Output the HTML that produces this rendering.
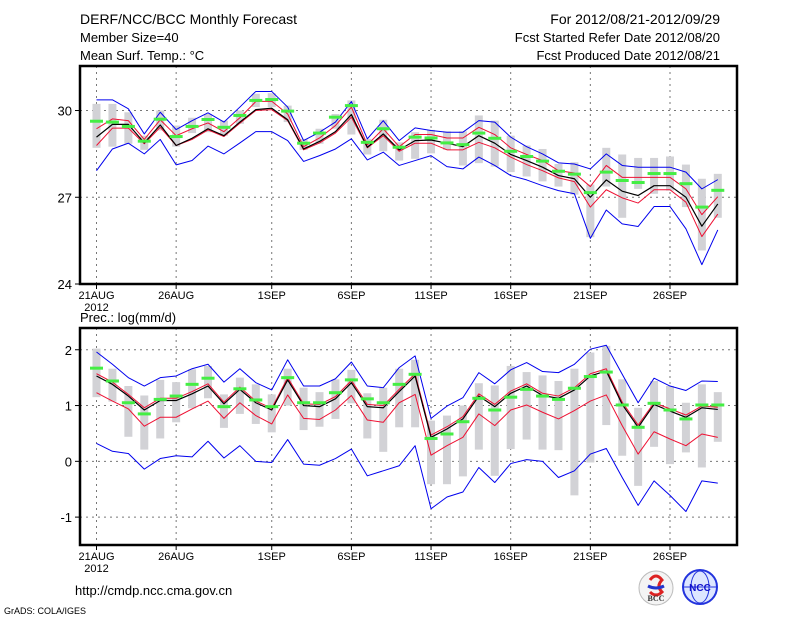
<!DOCTYPE html>
<html><head><meta charset="utf-8">
<style>
html,body{margin:0;padding:0;background:#fff;}
svg{display:block;font-family:"Liberation Sans",sans-serif;}
</style></head>
<body>
<svg id="c" width="800" height="618" viewBox="0 0 800 618">
<text x="80" y="24" font-size="14">DERF/NCC/BCC Monthly Forecast</text>
<text x="80" y="42" font-size="13">Member Size=40</text>
<text x="80" y="60" font-size="13">Mean Surf. Temp.: °C</text>
<text x="720" y="24" font-size="14" text-anchor="end">For 2012/08/21-2012/09/29</text>
<text x="720" y="42" font-size="13" text-anchor="end">Fcst Started Refer Date 2012/08/20</text>
<text x="720" y="60" font-size="13" text-anchor="end">Fcst Produced Date 2012/08/21</text>
<text x="80" y="322" font-size="13">Prec.: log(mm/d)</text>
<text x="75" y="595" font-size="13">http://cmdp.ncc.cma.gov.cn</text>
<text x="4" y="614" font-size="9">GrADS: COLA/IGES</text>
<g>
<circle cx="656" cy="588" r="17" fill="#f4f4f4" stroke="#bbb"/>
<path d="M650 580 q6 -8 12 0 q-6 6 0 12 q-6 6 -12 0" fill="none" stroke="#d22" stroke-width="3"/>
<path d="M648 586 q8 4 16 0" fill="none" stroke="#23c" stroke-width="3"/>
<text x="656" y="601" font-size="8" text-anchor="middle" font-family="Liberation Serif,serif" font-weight="bold" fill="#333">BCC</text>
</g>
<g>
<circle cx="700" cy="587" r="17" fill="#dde6ff" stroke="#23d" stroke-width="2"/>
<ellipse cx="700" cy="587" rx="9" ry="16" fill="none" stroke="#23d"/>
<line x1="684" y1="587" x2="716" y2="587" stroke="#23d"/>
<text x="700" y="591" font-size="10" text-anchor="middle" font-weight="bold" fill="#11c">NCC</text>
</g>
</svg>
<script>
// ---- temperature panel data (°C) ----
const dayTicks = ["21AUG","26AUG","1SEP","6SEP","11SEP","16SEP","21SEP","26SEP"];
const dayTickIdx = [0,5,11,16,21,26,31,36];
const tTicks = [24,27,30];
const pTicks = [-1,0,1,2];
const tBlack = [29.08,29.52,29.52,28.88,29.50,28.79,29.04,29.37,29.13,29.60,30.03,30.08,29.68,28.67,28.93,29.27,29.86,28.73,29.19,28.64,28.96,28.98,28.87,28.75,29.13,28.87,28.48,28.27,28.04,27.75,27.64,27.00,27.60,27.21,27.06,27.40,27.40,27.00,26.00,26.77];
const tRedHi = [29.37,29.71,29.65,29.00,29.68,29.13,29.37,29.57,29.27,29.75,30.31,30.32,29.88,28.75,29.05,29.48,30.12,28.81,29.37,28.75,29.17,29.17,29.05,29.05,29.42,29.17,28.71,28.48,28.27,27.92,27.84,27.37,28.10,27.69,27.69,27.69,27.69,27.29,26.40,27.02];
const tRedLo = [28.79,29.39,29.39,28.85,29.42,28.79,29.00,29.33,29.10,29.56,30.00,30.03,29.65,28.64,28.88,29.22,29.77,28.71,29.13,28.59,28.87,28.87,28.64,28.64,28.90,28.71,28.39,28.13,27.92,27.67,27.54,26.66,27.26,26.98,26.80,27.26,27.26,26.83,25.64,26.42];
const tBlueHi = [30.37,30.37,30.06,29.19,29.94,29.34,29.65,29.92,29.60,30.12,30.66,30.66,30.12,28.96,29.25,29.60,30.31,29.02,29.65,28.96,29.40,29.31,29.25,29.25,29.65,29.60,29.08,28.75,28.50,28.19,28.15,27.98,28.50,28.10,28.04,28.04,28.04,27.87,27.29,27.61];
const tBlueLo = [27.92,28.67,28.87,28.50,29.00,28.12,28.27,28.77,28.50,28.88,29.27,29.27,28.96,28.24,28.44,28.67,29.02,28.29,28.56,28.10,28.27,28.44,28.06,27.98,28.39,28.10,27.75,27.60,27.40,27.23,27.12,25.58,26.56,26.08,25.99,26.68,26.68,25.91,24.67,25.87];
const tGreen = [29.63,29.60,29.45,28.94,29.70,29.10,29.45,29.69,29.42,29.83,30.35,30.38,29.98,28.87,29.22,29.77,30.17,28.90,29.37,28.73,29.08,29.05,28.88,28.82,29.22,29.04,28.59,28.41,28.25,27.90,27.80,27.16,27.87,27.58,27.51,27.82,27.82,27.47,26.66,27.24];
const tBarHi = [30.23,30.23,29.94,29.13,30.00,29.48,29.75,29.88,29.65,30.00,30.58,30.60,30.17,29.02,29.37,29.88,30.35,29.02,29.68,28.90,29.25,29.33,29.28,29.28,29.83,29.65,29.13,28.79,28.67,28.15,28.21,27.44,28.71,28.48,28.36,28.36,28.41,28.13,27.64,27.81];
const tBarLo = [28.71,28.75,28.85,28.64,29.31,28.75,29.22,29.25,29.13,29.54,30.12,30.12,29.60,28.64,28.85,29.37,29.17,28.48,28.59,28.27,28.33,28.52,28.64,28.10,28.18,28.06,27.87,27.72,27.55,27.37,27.09,25.62,27.37,26.29,27.29,27.12,27.23,26.66,25.16,26.29];
// ---- precipitation panel data (log mm/d) ----
const pBlack = [1.53,1.38,1.17,0.92,1.09,1.09,1.21,1.35,1.03,1.29,1.05,0.92,1.46,1.00,0.98,1.12,1.41,0.98,0.96,1.25,1.53,0.43,0.58,0.76,1.17,0.98,1.22,1.35,1.18,1.13,1.28,1.53,1.62,1.02,0.61,1.02,0.90,0.79,0.96,0.93];
const pRedHi = [1.57,1.42,1.20,0.96,1.13,1.13,1.25,1.39,1.06,1.33,1.08,0.95,1.50,1.03,1.02,1.16,1.45,1.02,1.00,1.29,1.57,0.47,0.62,0.80,1.21,1.02,1.26,1.39,1.22,1.17,1.32,1.57,1.66,1.06,0.65,1.05,0.94,0.83,0.99,0.97];
const pRedLo = [1.23,1.08,0.94,0.63,0.79,0.79,0.94,1.08,0.77,1.05,0.82,0.67,1.19,0.77,0.75,0.92,1.18,0.74,0.70,1.05,1.20,0.11,0.28,0.43,0.85,0.64,0.92,1.01,0.88,0.76,0.91,1.08,1.19,0.64,0.13,0.53,0.40,0.28,0.49,0.43];
const pBlueHi = [1.96,1.74,1.50,1.35,1.50,1.53,1.66,1.74,1.42,1.66,1.41,1.28,1.82,1.35,1.35,1.48,1.78,1.35,1.32,1.68,1.89,0.77,0.99,1.14,1.59,1.39,1.64,1.77,1.61,1.59,1.74,2.01,2.08,1.56,1.05,1.49,1.35,1.27,1.44,1.43];
const pBlueLo = [0.32,0.18,0.14,-0.14,0.05,0.10,0.08,0.36,0.06,0.28,0.00,-0.02,0.39,-0.05,-0.07,0.05,0.22,-0.26,-0.17,-0.08,0.28,-0.85,-0.64,-0.55,-0.11,-0.38,-0.04,0.03,0.00,-0.29,-0.17,0.13,0.23,-0.29,-0.79,-0.35,-0.61,-0.90,-0.35,-0.39];
const pGreen = [1.67,1.44,1.05,0.85,1.11,1.17,1.38,1.49,0.98,1.30,1.10,0.98,1.50,1.05,1.05,1.23,1.46,1.12,1.05,1.38,1.56,0.41,0.49,0.71,1.13,0.92,1.15,1.29,1.17,1.11,1.31,1.52,1.60,1.01,0.61,1.04,0.92,0.76,1.01,1.01];
const pBarHi = [2.02,1.66,1.35,1.18,1.46,1.42,1.65,1.71,1.20,1.50,1.38,1.20,1.66,1.32,1.24,1.47,1.64,1.22,1.32,1.66,1.82,0.73,0.82,1.00,1.40,1.36,1.71,1.60,1.54,1.44,1.66,1.95,2.07,1.47,0.96,1.44,1.35,1.05,1.38,1.24];
const pBarLo = [1.15,1.07,0.44,0.21,0.41,0.70,0.95,1.13,0.60,0.85,0.67,0.52,1.00,0.56,0.62,0.76,1.04,0.41,0.17,0.61,0.61,-0.41,-0.41,-0.27,0.21,-0.26,0.22,0.39,0.21,0.20,-0.61,-0.02,0.65,0.10,-0.44,0.26,-0.05,0.16,-0.11,0.35];

const svg = document.getElementById('c');
const NS = 'http://www.w3.org/2000/svg';
function mk(tag, attrs, parent){ const e=document.createElementNS(NS,tag); for(const k in attrs) e.setAttribute(k,attrs[k]); (parent||svg).appendChild(e); return e; }
const X0=80, X1=737;
function xs(d){ return 96.5 + d*(670-96.5)/36; }

function panel(cfg){
  const {top,bottom,vmin,vmax,ticks,name} = cfg;
  const ys = v => bottom - (v-vmin)/(vmax-vmin)*(bottom-top);
  const g = mk('g',{});
  
  
  ticks.forEach(t=>{
    if(t!==vmin){
      const l = mk('line',{x1:X0,x2:X1,y1:ys(t),y2:ys(t),stroke:'#777','stroke-dasharray':'2,4','stroke-width':1},g);
      
      
    }
    const tx = mk('text',{x:72,y:ys(t)+5,'font-size':13,'text-anchor':'end'},g);
    tx.textContent = t;
    
    
    mk('line',{x1:X0-5,x2:X0,y1:ys(t),y2:ys(t),stroke:'#000'},g);
  });
  dayTickIdx.forEach((d,i)=>{
    const l = mk('line',{x1:xs(d),x2:xs(d),y1:top,y2:bottom,stroke:'#777','stroke-dasharray':'2,4'},g);
    
    
    mk('line',{x1:xs(d),x2:xs(d),y1:bottom,y2:bottom+5,stroke:'#000'},g);
    const tx = mk('text',{x:xs(d),y:bottom+15,'font-size':11,'text-anchor':'middle'},g);
    tx.textContent = dayTicks[i];
    
    
  });
  const yr = mk('text',{x:xs(0),y:bottom+27,'font-size':11,'text-anchor':'middle'},g);
  yr.textContent='2012';
  
  
  cfg.barHi.forEach((h,i)=>{
    const y1=ys(h), y2=ys(cfg.barLo[i]);
    const r = mk('rect',{x:xs(i)-4,y:y1,width:8,height:Math.max(1,y2-y1),fill:'#d2d2d6'},g);
    
    
  });
  function line(arr,color,w,nm){
    const p = mk('polyline',{points:arr.map((v,i)=>xs(i)+','+ys(v)).join(' '),fill:'none',stroke:color,'stroke-width':w,'stroke-linejoin':'round'},g);
    
    
  }
  line(cfg.blueHi,'#0000ee',1,'blue-upper-line');
  line(cfg.blueLo,'#0000ee',1,'blue-lower-line');
  line(cfg.redHi,'#ee1133',1,'red-upper-line');
  line(cfg.redLo,'#ee1133',1,'red-lower-line');
  line(cfg.black,'#000',1.2,'ensemble-mean-line');
  cfg.green.forEach((v,i)=>{
    const r = mk('rect',{x:xs(i)-6.5,y:ys(v)-1.5,width:13,height:3,fill:'#44ee44'},g);
    
    
  });
  const f = mk('rect',{x:X0,y:top,width:X1-X0,height:bottom-top,fill:'none',stroke:'#000','stroke-width':2.5},g);
  
  
}
panel({name:'temperature-panel',top:66,bottom:284,vmin:24,vmax:31.54,ticks:tTicks,
  black:tBlack,redHi:tRedHi,redLo:tRedLo,blueHi:tBlueHi,blueLo:tBlueLo,green:tGreen,barHi:tBarHi,barLo:tBarLo});
panel({name:'precipitation-panel',top:328,bottom:545,vmin:-1.5,vmax:2.39,ticks:pTicks,
  black:pBlack,redHi:pRedHi,redLo:pRedLo,blueHi:pBlueHi,blueLo:pBlueLo,green:pGreen,barHi:pBarHi,barLo:pBarLo});
</script>
</body></html>
